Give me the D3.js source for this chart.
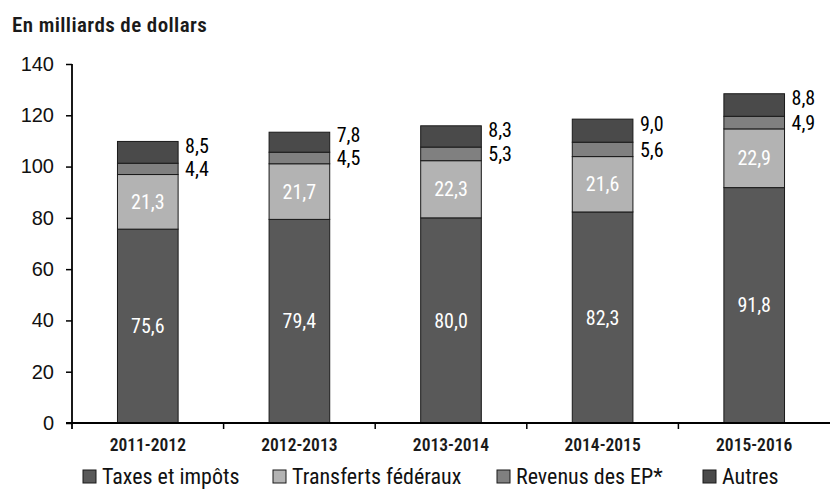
<!DOCTYPE html>
<html>
<head>
<meta charset="utf-8">
<script src="https://cdn.jsdelivr.net/npm/d3@7"></script>
<style>
  body { margin: 0; background: #fff; }
  svg { display: block; }
  text { font-family: "Liberation Sans Narrow", "Arial Narrow", "Roboto Condensed", "Liberation Sans", sans-serif; }
</style>
</head>
<body>
<svg id="chart" width="830" height="489"></svg>
<script>
// Revenus budgétaires par exercice, en milliards de dollars
const years = ["2011-2012", "2012-2013", "2013-2014", "2014-2015", "2015-2016"];
const taxes = [75.6, 79.4, 80.0, 82.3, 91.8];
const transferts = [21.3, 21.7, 22.3, 21.6, 22.9];
const revenusEP = [4.4, 4.5, 5.3, 5.6, 4.9];
const autres = [8.5, 7.8, 8.3, 9.0, 8.8];
const seriesNames = ["Taxes et impôts", "Transferts fédéraux", "Revenus des EP*", "Autres"];
const yTicks = [0, 20, 40, 60, 80, 100, 120, 140];

const colors = ["#595959", "#b3b3b3", "#808080", "#4a4a4a"];
const labelInside = [true, true, false, false];

const svg = d3.select("#chart");
const fmt = v => v.toFixed(1).replace(".", ",");

const x = d3.scaleBand().domain(years).range([72, 830]).padding(0);
const y = d3.scaleLinear().domain([0, 140]).range([423, 64]);
const barW = x.bandwidth() * 0.4;

const rows = years.map((yr, i) => ({
  year: yr,
  "Taxes et impôts": taxes[i],
  "Transferts fédéraux": transferts[i],
  "Revenus des EP*": revenusEP[i],
  "Autres": autres[i]
}));
const stacked = d3.stack().keys(seriesNames)(rows);

// Titre de l'axe
svg.append("text")
  .attr("x", 12).attr("y", 32)
  .attr("font-size", 21).attr("font-weight", 600).attr("fill", "#1a1a1a")
  .attr("letter-spacing", 0.4)
  .text("En milliards de dollars");

// Barres empilées
stacked.forEach((layer, si) => {
  const g = svg.append("g");
  g.selectAll("rect").data(layer).enter().append("rect")
    .attr("x", d => x(d.data.year) + (x.bandwidth() - barW) / 2)
    .attr("y", d => y(d[1]))
    .attr("width", barW)
    .attr("height", d => y(d[0]) - y(d[1]))
    .attr("fill", colors[si])
    .attr("stroke", "#1a1a1a")
    .attr("stroke-width", 1);

  g.selectAll("text").data(layer).enter().append("text")
    .attr("x", d => labelInside[si]
      ? x(d.data.year) + x.bandwidth() / 2
      : x(d.data.year) + (x.bandwidth() + barW) / 2 + 7)
    .attr("y", d => (y(d[0]) + y(d[1])) / 2 + (si === 3 ? -7 : 0))
    .attr("dy", "0.36em")
    .attr("text-anchor", labelInside[si] ? "middle" : "start")
    .attr("font-size", 20)
    .attr("fill", labelInside[si] ? "#fff" : "#000")
    .text(d => fmt(d[1] - d[0]));
});

// Axe vertical
const yAxis = svg.append("g")
  .attr("transform", "translate(72,0)")
  .call(d3.axisLeft(y).tickValues(yTicks).tickSize(6).tickPadding(12).tickFormat(d3.format("d")));
yAxis.select(".domain").remove();
yAxis.selectAll(".tick line").attr("stroke", "#000").attr("stroke-width", 1.5);
yAxis.selectAll(".tick text")
  .attr("font-size", 20).attr("fill", "#111")
  .style("font-family", "'Liberation Sans Narrow', 'Arial Narrow', sans-serif");
svg.append("line")
  .attr("x1", 72).attr("x2", 72)
  .attr("y1", y(140)).attr("y2", y(0) + 6)
  .attr("stroke", "#000").attr("stroke-width", 1.8);

// Axe horizontal
svg.append("line")
  .attr("x1", 66).attr("x2", 830)
  .attr("y1", y(0)).attr("y2", y(0))
  .attr("stroke", "#000").attr("stroke-width", 1.8);
svg.append("g").selectAll("line").data(years.slice(1)).enter().append("line")
  .attr("x1", d => x(d)).attr("x2", d => x(d))
  .attr("y1", y(0)).attr("y2", y(0) + 6)
  .attr("stroke", "#000").attr("stroke-width", 1.5);
svg.append("g").selectAll("text").data(years).enter().append("text")
  .attr("x", d => x(d) + x.bandwidth() / 2)
  .attr("y", y(0) + 28)
  .attr("text-anchor", "middle")
  .attr("font-size", 17.5).attr("font-weight", 600).attr("fill", "#1a1a1a")
  .text(d => d);

// Légende
const legendX = [83, 273, 497, 703];
const leg = svg.append("g").selectAll("g").data(seriesNames).enter().append("g")
  .attr("transform", (d, i) => `translate(${legendX[i]},470)`);
leg.append("rect")
  .attr("width", 13).attr("height", 13)
  .attr("fill", (d, i) => colors[i])
  .attr("stroke", "#1a1a1a").attr("stroke-width", 1);
leg.append("text")
  .attr("x", 19).attr("y", 14)
  .attr("font-size", 22).attr("fill", "#111")
  .text(d => d);
</script>
</body>
</html>
